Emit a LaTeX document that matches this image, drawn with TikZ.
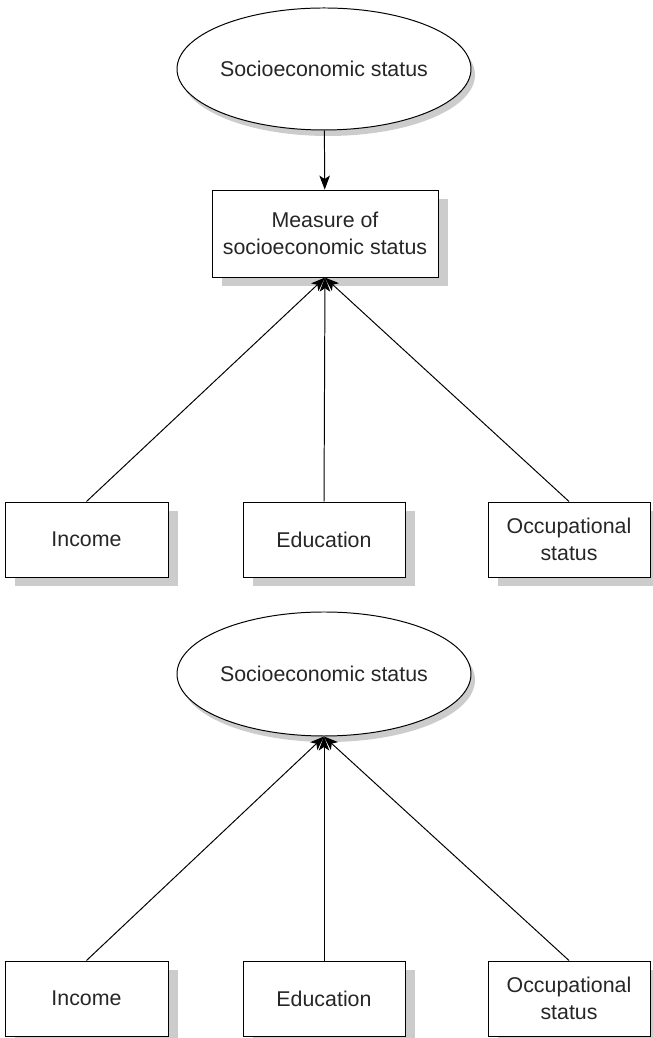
\documentclass[tikz,border=0pt]{standalone}
\usepackage{fontspec}
\setmainfont{Liberation Sans}
\usetikzlibrary{shapes.geometric, shadows, arrows.meta}

\begin{document}
\begin{tikzpicture}[scale=1,
    every node/.style={draw, line width=0.7pt, fill=white, text=black!85, align=center,
        font=\fontsize{15.2}{19.2}\selectfont},
    box/.style={rectangle, inner sep=0pt, minimum height=1.875cm,
        drop shadow={shadow xshift=0.25cm, shadow yshift=-0.225cm, fill=black!20, opacity=1}},
    latent/.style={ellipse, inner sep=0pt, minimum width=6.6cm, minimum height=3.05cm,
        drop shadow={shadow xshift=0.1cm, shadow yshift=-0.15cm, fill=black!20, opacity=1}},
    every path/.style={line width=0.7pt},
    >={Stealth[length=10pt, width=7.5pt, inset=2.5pt]}]
                \useasboundingbox (0,0) rectangle (16.3,25.95);
                % upper model: the measure stands between the status and its causes
                \node[latent] (ses) at (8.1,24.225) {Socioeconomic status};
                \node[box, minimum width=5.65cm, minimum height=2.175cm] (measure) at (8.125,20.11) {Measure of\\socioeconomic status};
                \node[box, minimum width=4.075cm] (inc) at (2.1625,12.4625) {Income};
                \node[box, minimum width=4.05cm] (edu) at (8.1,12.4625) {Education};
                \node[box, minimum width=4.05cm] (occ) at (14.225,12.4625) {Occupational\\status};
                \draw[->] (ses) -- (measure);
                \draw[->] (inc.north) -- (measure.south);
                \draw[->] (edu.north) -- (measure.south);
                \draw[->] (occ.north) -- (measure.south);
                % lower model: the causes point straight at the status
                \node[latent, minimum width=6.65cm, minimum height=3.1cm] (ses2) at (8.1,9.1) {Socioeconomic status};
                \node[box, minimum width=4.075cm] (inc2) at (2.1625,0.9875) {Income};
                \node[box, minimum width=4.05cm] (edu2) at (8.1,0.9875) {Education};
                \node[box, minimum width=4.05cm] (occ2) at (14.225,0.9875) {Occupational\\status};
                \draw[->] (inc2.north) -- (ses2.south);
                \draw[->] (edu2.north) -- (ses2.south);
                \draw[->] (occ2.north) -- (ses2.south);
                \end{tikzpicture}
\end{document}
